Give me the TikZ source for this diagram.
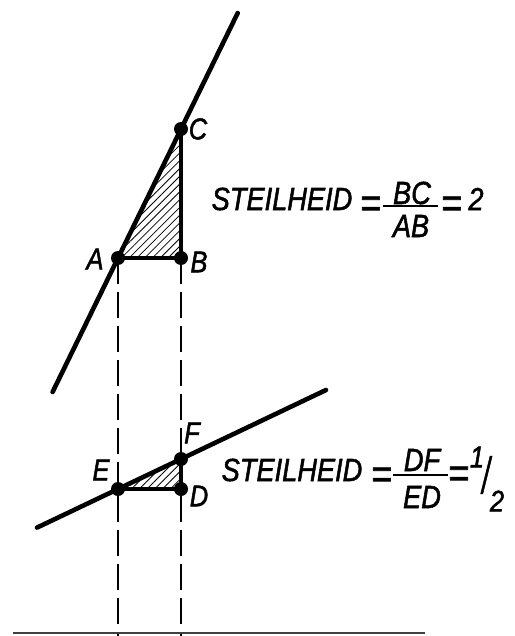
\documentclass[tikz,border=0pt]{standalone}
\usepackage{fontspec}
\newfontfamily\labfont{Liberation Sans}[FakeStretch=0.85,FakeBold=1.6]
\usetikzlibrary{patterns.meta}
\begin{document}
\begin{tikzpicture}[x=1pt,y=-1pt,
  mainline/.style={line width=4.6pt, line cap=round},
  side/.style={line width=3.8pt, line join=round},
  guide/.style={line width=2.6pt, dash pattern=on 26pt off 8pt},
  base/.style={line width=1.5pt, black!75},
  dot/.style={circle, fill=black, inner sep=0pt, minimum size=14pt},
  lbl/.style={font=\labfont\itshape\fontsize{30}{32}\selectfont, inner sep=0pt},
  eqtxt/.style={font=\labfont\itshape\fontsize{32}{36}\selectfont, inner sep=0pt},
  eqsign/.style={font=\labfont\fontsize{42}{44}\selectfont, inner sep=0pt},
  bar/.style={line width=2.2pt},
  hatch/.style={pattern={Lines[angle=45,distance=5.5pt,line width=0.8pt]}},
]
\useasboundingbox (0,0) rectangle (514,636);
% key points
\coordinate (A) at (118,258);
\coordinate (B) at (181,258);
\coordinate (C) at (181,129);
\coordinate (E) at (118,489);
\coordinate (D) at (181,489);
\coordinate (F) at (181,459);
\coordinate (L1s) at (52.6,392);
\coordinate (L1e) at (237.7,13);
\coordinate (L2s) at (37,527.6);
\coordinate (L2e) at (326,390);
\coordinate (Abot) at (118,636);
\coordinate (Bbot) at (181,636);
\coordinate (G1) at (13,633);
\coordinate (G2) at (425,633);
% hatched triangles
\fill[hatch] (A) -- (B) -- (C) -- cycle;
\fill[hatch] (E) -- (D) -- (F) -- cycle;
% guides
\draw[guide] (A) -- (Abot);
\draw[guide] (B) -- (Bbot);
\draw[base] (G1) -- (G2);
% lines
\draw[mainline] (L1s) -- (L1e);
\draw[mainline] (L2s) -- (L2e);
\draw[side] (A) -- (B) -- (C);
\draw[side] (E) -- (D) -- (F);
% dots
\foreach \p in {A,B,C,D,E,F} \node[dot] (dot\p) at (\p) {};
% point labels
\node[lbl] (tC) at (198,129) {C};
\node[lbl] (tA) at (95,259) {A};
\node[lbl] (tB) at (199,262) {B};
\node[lbl] (tF) at (192,433) {F};
\node[lbl] (tE) at (101,470) {E};
\node[lbl] (tD) at (199,496) {D};
% equation 1
\node[eqtxt] (s1) at (282,199) {STEILHEID};
\node[eqsign] (e1a) at (371,207) {=};
\coordinate (b1s) at (383,206);
\coordinate (b1e) at (438,206);
\draw[bar] (b1s) -- (b1e);
\node[eqtxt] (n1) at (412,193) {BC};
\node[eqtxt] (d1) at (411,226) {AB};
\node[eqsign] (e1b) at (452,207) {=};
\node[eqtxt] (v1) at (476,199) {2};
% equation 2
\node[eqtxt] (s2) at (292,470) {STEILHEID};
\node[eqsign] (e2a) at (382,478) {=};
\coordinate (b2s) at (393,475);
\coordinate (b2e) at (448,475);
\draw[bar] (b2s) -- (b2e);
\node[eqtxt] (n2) at (422,460) {DF};
\node[eqtxt] (d2) at (422,497) {ED};
\node[eqsign] (e2b) at (459,477) {=};
\node[eqtxt] (h1) at (477,457) {\fontsize{30}{32}\selectfont 1};
\node[eqtxt] (hs) at (486,475) {\scalebox{1}[1.6]{/}};
\node[eqtxt] (h2) at (497,501) {\fontsize{30}{32}\selectfont 2};
\end{tikzpicture}
\end{document}
